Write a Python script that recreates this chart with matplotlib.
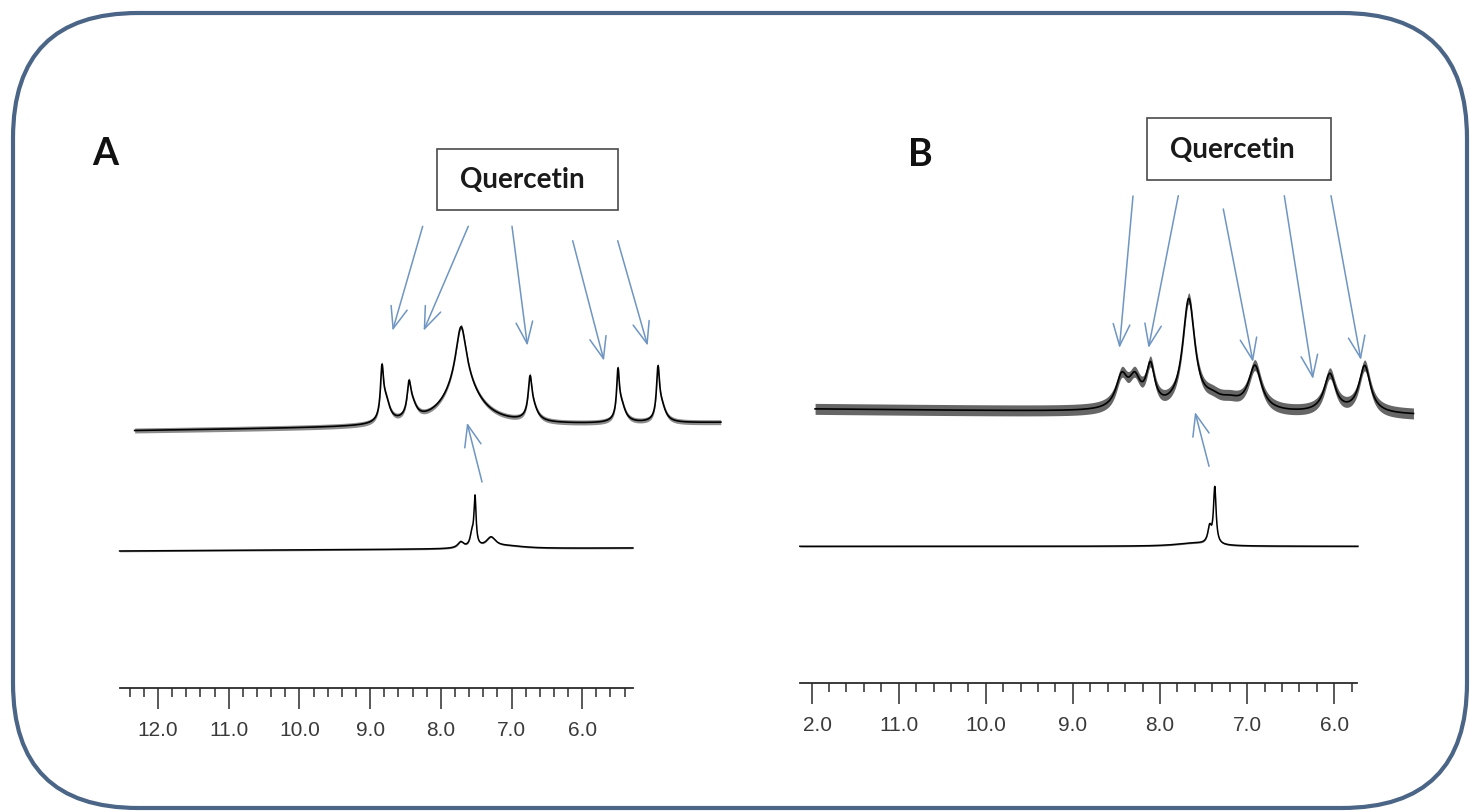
import matplotlib
matplotlib.use("Agg")
import numpy as np
import matplotlib.pyplot as plt
from matplotlib.patches import FancyBboxPatch, Rectangle
from matplotlib.ticker import FixedLocator, FixedFormatter, MultipleLocator, NullFormatter
from matplotlib.transforms import ScaledTranslation

# ---------------- data (chemical shift in ppm, intensity in arbitrary units) -------------
# Panel A, upper spectrum (sample with quercetin)
A_top_range = (12.33, 4.04)
A_top_centers = [8.832, 8.78, 8.450, 8.41, 7.714, 7.70, 6.738, 6.70, 5.494, 5.45, 4.928, 4.88]
A_top_heights = [45, 22, 26, 16, 57, 42, 34, 14, 42, 18, 46, 16]
A_top_widths = [0.025, 0.07, 0.03, 0.08, 0.09, 0.30, 0.03, 0.08, 0.022, 0.07, 0.025, 0.07]
A_top_baseline = (0.0, 8.0)
A_top_noise = 2.5

# Panel A, lower spectrum (reference)
A_bot_range = (12.543, 5.283)
A_bot_centers = [7.516, 7.56, 7.718, 7.29, 7.05]
A_bot_heights = [48, 12, 6, 10, 2.5]
A_bot_widths = [0.018, 0.03, 0.05, 0.08, 0.3]
A_bot_baseline = (0.0, 3.0)
A_bot_noise = 0.8

# Panel B, upper spectrum (sample with quercetin)
B_top_range = (11.96, 5.09)
B_top_centers = [8.44, 8.29, 8.11, 7.67, 7.40, 7.20, 6.91, 6.05, 5.65]
B_top_heights = [31, 27, 40, 110, 8, 8, 44, 38, 47]
B_top_widths = [0.08, 0.08, 0.06, 0.085, 0.12, 0.15, 0.09, 0.08, 0.08]
B_top_baseline = (3.0, -3.0)
B_top_noise = 5.5

# Panel B, lower spectrum (reference)
B_bot_range = (12.135, 5.728)
B_bot_centers = [7.371, 7.43, 7.62]
B_bot_heights = [56, 16, 3]
B_bot_widths = [0.018, 0.025, 0.25]
B_bot_baseline = (0.0, 0.0)
B_bot_noise = 0.8

# Scales (rulers)
A_ruler_range = (12.54, 5.28)
B_ruler_range = (12.135, 5.738)
major_ticks = [12.0, 11.0, 10.0, 9.0, 8.0, 7.0, 6.0]
A_tick_labels = ["12.0", "11.0", "10.0", "9.0", "8.0", "7.0", "6.0"]
B_tick_labels = ["2.0", "11.0", "10.0", "9.0", "8.0", "7.0", "6.0"]

# Arrow targets (ppm, intensity on the upper spectrum)
A_arrow_ppm = [8.683, 8.243, 6.775, 5.692, 5.074]
A_arrow_int = [100, 100, 85, 70, 85]
B_arrow_ppm = [8.466, 8.132, 6.932, 6.243, 5.693]
B_arrow_int = [64, 64, 50, 33, 52]
# upward arrows (reference peak -> sample peak)
A_up_from = (7.417, 69)
A_up_to = (7.629, 8)
B_up_from = (7.437, 80)
B_up_to = (7.598, 0)

# ---------------- layout ----------------
W, H = 1470, 812
fig = plt.figure(figsize=(W / 100, H / 100), dpi=100)

# panel calibration: pixel of 12.0 ppm and pixels per ppm
A_ref, A_scale = 158.0, 70.7
B_ref, B_scale = 811.6, 87.1


def ppm_to_px(ppm, ref, scale):
    return ref + (12.0 - ppm) * scale


def px_axes(l, t, r, b):
    return fig.add_axes([l / W, 1 - b / H, (r - l) / W, (b - t) / H])


def lorentz(x, centers, heights, widths):
    y = np.zeros_like(x)
    for c, h, w in zip(centers, heights, widths):
        y += h / (1.0 + ((x - c) / w) ** 2)
    return y


def trace(rng, centers, heights, widths, baseline, noise, ref, scale, base_px,
          lw=1.0, band_alpha=0.5):
    l = ppm_to_px(rng[0], ref, scale)
    r = ppm_to_px(rng[1], ref, scale)
    ax = px_axes(l, base_px - 140, r, base_px + 20)
    ax.set_xlim(rng[0], rng[1])
    ax.set_ylim(-20, 140)
    x = np.linspace(rng[0], rng[1], 5000)
    frac = (rng[0] - x) / (rng[0] - rng[1])
    y = lorentz(x, centers, heights, widths) + baseline[0] + (baseline[1] - baseline[0]) * frac
    if noise > 0:
        ax.fill_between(x, y - noise, y + noise, color="k", alpha=band_alpha, lw=0, clip_on=False)
    ax.plot(x, y, color="k", lw=lw, clip_on=False)
    ax.axis("off")
    return ax


axA_top = trace(A_top_range, A_top_centers, A_top_heights, A_top_widths, A_top_baseline,
                A_top_noise, A_ref, A_scale, 431.7, lw=1.2, band_alpha=0.45)
axA_bot = trace(A_bot_range, A_bot_centers, A_bot_heights, A_bot_widths, A_bot_baseline,
                A_bot_noise, A_ref, A_scale, 552.0, lw=1.1)
axB_top = trace(B_top_range, B_top_centers, B_top_heights, B_top_widths, B_top_baseline,
                B_top_noise, B_ref, B_scale, 413.0, lw=1.2, band_alpha=0.6)
axB_bot = trace(B_bot_range, B_bot_centers, B_bot_heights, B_bot_widths, B_bot_baseline,
                B_bot_noise, B_ref, B_scale, 547.3, lw=1.1)


def ruler(rng, labels, ref, scale, line_px, shift_first=0.0):
    l = ppm_to_px(rng[0], ref, scale)
    r = ppm_to_px(rng[1], ref, scale)
    ax = px_axes(l, line_px - 2, r, line_px)
    ax.set_xlim(rng[0], rng[1])
    ax.set_ylim(0, 1)
    ax.patch.set_alpha(0)
    for s in ["top", "left", "right"]:
        ax.spines[s].set_visible(False)
    ax.spines["bottom"].set_linewidth(1.3)
    ax.spines["bottom"].set_color("#2b2b2b")
    ax.set_yticks([])
    ax.xaxis.set_major_locator(FixedLocator(major_ticks))
    ax.xaxis.set_major_formatter(FixedFormatter(labels))
    ax.xaxis.set_minor_locator(MultipleLocator(0.2))
    ax.xaxis.set_minor_formatter(NullFormatter())
    ax.tick_params(axis="x", which="major", direction="out", length=15.1, width=1.1,
                   color="#2b2b2b", pad=8.0, labelsize=15, labelcolor="#3a3a3a")
    ax.tick_params(axis="x", which="minor", direction="out", length=6.5, width=1.1,
                   color="#2b2b2b")
    for lab in ax.get_xticklabels():
        lab.set_fontfamily("Liberation Sans")
    if shift_first:
        lab0 = ax.get_xticklabels()[0]
        lab0.set_transform(lab0.get_transform() + ScaledTranslation(shift_first / 100, 0, fig.dpi_scale_trans))
    return ax


ruler(A_ruler_range, A_tick_labels, A_ref, A_scale, 689.0)
ruler(B_ruler_range, B_tick_labels, B_ref, B_scale, 684.3, shift_first=6.0)

# overlay in pixel coordinates for frame, labels, boxes and arrows
ov = fig.add_axes([0, 0, 1, 1])
ov.set_xlim(0, W)
ov.set_ylim(H, 0)
ov.axis("off")
ov.patch.set_alpha(0)

frame = FancyBboxPatch((13, 14), 1454, 795, boxstyle="round,pad=0,rounding_size=125",
                       fill=False, edgecolor="#4b6587", lw=3.0)
ov.add_patch(frame)

ov.text(105, 154, "A", fontsize=27, fontweight="bold", family="Lato",
        ha="center", va="center", color="#111111")
ov.text(920, 155, "B", fontsize=27, fontweight="bold", family="Lato",
        ha="center", va="center", color="#111111")

ov.add_patch(Rectangle((437.3, 150), 181, 60.7, fill=True, facecolor="white",
                       edgecolor="#4a4a4a", lw=1.2))
ov.text(522, 180, "Quercetin", fontsize=20, fontweight="bold", family="Lato",
        ha="center", va="center", color="#1a1a1a")
ov.add_patch(Rectangle((1147, 119.3), 184, 61.4, fill=True, facecolor="white",
                       edgecolor="#4a4a4a", lw=1.2))
ov.text(1232, 150, "Quercetin", fontsize=20, fontweight="bold", family="Lato",
        ha="center", va="center", color="#1a1a1a")

arrow_color = "#6f95c2"
astyle = dict(arrowstyle="->,head_length=1.3,head_width=0.5", color=arrow_color,
              lw=1.1, mutation_scale=12, shrinkA=0, shrinkB=0)

A_tails = [(422.7, 227.3), (468.3, 227.3), (512.0, 227.3), (572.7, 241.7), (617.7, 241.7)]
for (tx, ty), p, v in zip(A_tails, A_arrow_ppm, A_arrow_int):
    ov.annotate("", xy=(p, v), xycoords=axA_top.transData, xytext=(tx, ty),
                textcoords="data", arrowprops=astyle, annotation_clip=False)

B_tails = [(1133.0, 197.0), (1178.3, 196.7), (1223.3, 210.0), (1284.3, 196.7), (1331.0, 196.7)]
for (tx, ty), p, v in zip(B_tails, B_arrow_ppm, B_arrow_int):
    ov.annotate("", xy=(p, v), xycoords=axB_top.transData, xytext=(tx, ty),
                textcoords="data", arrowprops=astyle, annotation_clip=False)

ov.annotate("", xy=A_up_to, xycoords=axA_top.transData, xytext=A_up_from,
            textcoords=axA_bot.transData, arrowprops=astyle, annotation_clip=False)
ov.annotate("", xy=B_up_to, xycoords=axB_top.transData, xytext=B_up_from,
            textcoords=axB_bot.transData, arrowprops=astyle, annotation_clip=False)

fig.savefig("out.png", dpi=100, facecolor="white")
